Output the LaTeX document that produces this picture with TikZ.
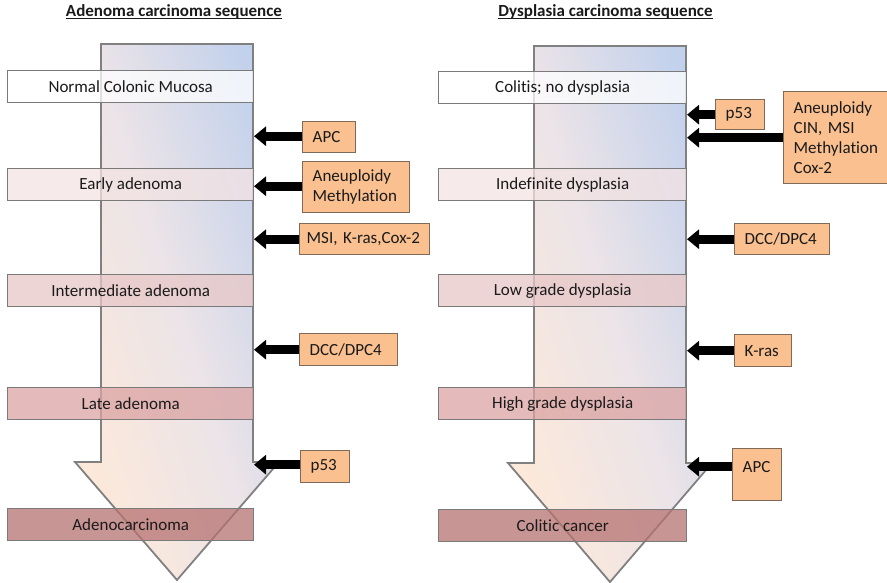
\documentclass[tikz,border=0pt]{standalone}
\usepackage{fontspec}
\setmainfont{Carlito}[Ligatures={NoCommon,NoRare,NoContextual}]
\frenchspacing
\usetikzlibrary{arrows.meta}
\definecolor{peach}{HTML}{FDE9D9}
\definecolor{skyb}{HTML}{C2D1EC}
\definecolor{midc}{HTML}{ECE4E8}
\definecolor{arrowgray}{HTML}{808080}
\definecolor{stagegray}{HTML}{7A7A7A}
\definecolor{genefill}{HTML}{FAC090}
\definecolor{genedraw}{HTML}{7F6A5A}
\definecolor{stA}{HTML}{FFFFFF}
\definecolor{stB}{HTML}{F3E3E3}
\definecolor{stC}{HTML}{E8C7C7}
\definecolor{stD}{HTML}{DBA3A3}
\definecolor{stE}{HTML}{B67272}
\definecolor{txt}{HTML}{1A1A1A}
\begin{document}
\begin{tikzpicture}[x=1pt,y=-1pt,
  bigarrow/.style={draw=arrowgray, line width=1.8pt, top color=skyb, bottom color=peach, middle color=midc, shading angle=-72},
  stage/.style={draw=stagegray, line width=1.4pt, fill opacity=0.75, text opacity=1, inner sep=0pt,
    minimum height=32pt, anchor=north west, font=\fontsize{17}{20}\selectfont, text=txt},
  gene/.style={draw=genedraw, line width=1.4pt, fill=genefill, inner xsep=10pt, inner ysep=0pt,
    anchor=north west, align=left, font=\fontsize{17}{20}\selectfont, text=txt},
  ttl/.style={font=\fontsize{17}{20}\selectfont\bfseries, text=txt, anchor=base, inner sep=0pt},
  garrow/.style={line width=9pt, -{Triangle[length=12pt,width=19pt]}, black}
]
\useasboundingbox (0,0) rectangle (887,583);

% titles
\node[ttl] (t1) at (174,17) {Adenoma carcinoma sequence};
\node[ttl] (t2) at (605.5,17) {Dysplasia carcinoma sequence};
\draw[line width=1pt, txt] ([yshift=-2pt]t1.base west) -- ([yshift=-2pt]t1.base east);
\draw[line width=1pt, txt] ([yshift=-2pt]t2.base west) -- ([yshift=-2pt]t2.base east);

% big arrows
\path[bigarrow] (101,44) -- (253,44) -- (253,462) -- (279,462) -- (177,580) -- (75,462) -- (101,462) -- cycle;
\path[bigarrow] (534,46) -- (686,46) -- (686,463) -- (712,463) -- (610,582) -- (508,463) -- (534,463) -- cycle;
\coordinate (Ledge) at (254,0);
\coordinate (Redge) at (687,0);

% stage boxes left
\node[stage, fill=stA, minimum width=246pt] (l1) at (7,70) {Normal Colonic Mucosa};
\node[stage, fill=stB, minimum width=246pt] (l2) at (7,168) {Early adenoma};
\node[stage, fill=stC, minimum width=246pt] (l3) at (7,274) {Intermediate adenoma};
\node[stage, fill=stD, minimum width=246pt] (l4) at (7,387) {Late adenoma};
\node[stage, fill=stE, minimum width=246pt] (l5) at (7,508) {Adenocarcinoma};

% stage boxes right
\node[stage, fill=stA, minimum width=248pt] (r1) at (438,71) {Colitis; no dysplasia};
\node[stage, fill=stB, minimum width=248pt] (r2) at (438,168) {Indefinite dysplasia};
\node[stage, fill=stC, minimum width=248pt] (r3) at (438,274) {Low grade dysplasia};
\node[stage, fill=stD, minimum width=248pt] (r4) at (438,387) {High grade dysplasia};
\node[stage, fill=stE, minimum width=248pt] (r5) at (438,509) {Colitic cancer};

% gene boxes left
\node[gene, text width=33pt, minimum height=31pt] (ga1) at (302,121) {APC};
\node[gene, text width=87pt, minimum height=51pt] (ga2) at (302,161) {Aneuploidy\\Methylation};
\node[gene, text width=116pt, inner xsep=7pt, minimum height=31pt] (ga3) at (299,223) {MSI,\ K-ras,Cox-2};
\node[gene, text width=78pt, minimum height=32pt] (ga4) at (299,333) {DCC/DPC4};
\node[gene, text width=29pt, minimum height=32pt] (ga5) at (300,450) {p53};

% gene boxes right
\node[gene, text width=29pt, minimum height=30pt] (gb1) at (715,99) {p53};
\node[gene, text width=84pt, minimum height=92pt] (gb2) at (783,91) {Aneuploidy\\CIN,\ MSI\\Methylation\\Cox-2};
\node[gene, text width=75pt, minimum height=31pt] (gb3) at (734,223) {DCC/DPC4};
\node[gene, text width=37pt, minimum height=32pt] (gb4) at (734,334) {K-ras};
\node[gene, text width=29pt, minimum height=52pt, text height=12pt, text depth=16pt] (gb5) at (732,448) {APC};

% arrows left
\draw[garrow] ([yshift=1pt]ga1.west) -- ([yshift=1pt]ga1.west -| Ledge);
\draw[garrow] ([yshift=1pt]ga2.west) -- ([yshift=1pt]ga2.west -| Ledge);
\draw[garrow] (ga3.west) -- (ga3.west -| Ledge);
\draw[garrow] (ga4.west) -- (ga4.west -| Ledge);
\draw[garrow] ([yshift=2pt]ga5.west) -- ([yshift=2pt]ga5.west -| Ledge);

% arrows right
\draw[garrow] (gb1.west) -- (gb1.west -| Redge);
\draw[garrow] (gb2.west) -- (gb2.west -| Redge);
\draw[garrow] (gb3.west) -- (gb3.west -| Redge);
\draw[garrow] (gb4.west) -- (gb4.west -| Redge);
\draw[garrow] ([yshift=8pt]gb5.west) -- ([yshift=8pt]gb5.west -| Redge);
\end{tikzpicture}
\end{document}
